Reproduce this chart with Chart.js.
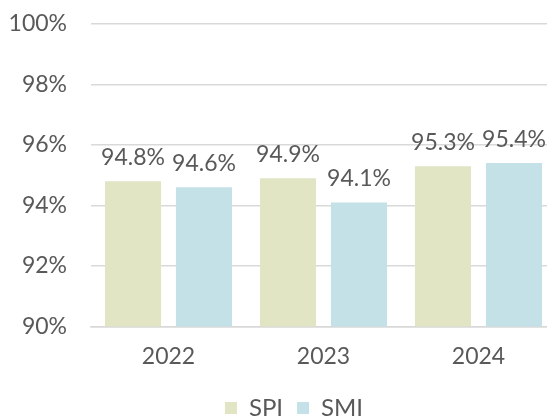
<!DOCTYPE html>
<html>
<head>
<meta charset="utf-8">
<script src="https://cdn.jsdelivr.net/npm/chart.js@4/dist/chart.umd.min.js"></script>
<style>
  html, body { margin: 0; padding: 0; background: #fff; overflow: hidden; }
  .wrap { width: 556px; height: 419px; }
</style>
</head>
<body>
<div class="wrap"><canvas id="myChart"></canvas></div>
<script>
// data
const years = ['2022', '2023', '2024'];
const spi_values = [94.8, 94.9, 95.3];
const smi_values = [94.6, 94.1, 95.4];

const text_color = '#595959';
const grid_color = '#d9d9d9';

// draws "94.8%" etc above each bar
const barLabels = {
    id: 'barLabels',
    afterLayout(chart) {
        // nudge legend down and right like the original
        chart.legend.left += 16;
        chart.legend.right += 16;
        chart.legend.top += 11;
        chart.legend.bottom += 11;
    },
    afterDatasetsDraw(chart) {
        const ctx = chart.ctx;
        ctx.save();
        ctx.font = '23px Lato';
        ctx.fillStyle = text_color;
        ctx.textAlign = 'center';
        ctx.textBaseline = 'middle';
        chart.data.datasets.forEach(function(ds, i) {
            const meta = chart.getDatasetMeta(i);
            meta.data.forEach(function(bar, j) {
                ctx.fillText(ds.data[j].toFixed(1) + '%', bar.x, bar.y - 24);
            });
        });
        ctx.restore();
    }
};

const config = {
    type: 'bar',
    data: {
        labels: years,
        datasets: [
            { label: 'SPI', data: spi_values, backgroundColor: '#e1e5c4' },
            { label: 'SMI', data: smi_values, backgroundColor: '#c4e1e7' }
        ]
    },
    options: {
        responsive: true,
        maintainAspectRatio: false,
        animation: false,
        categoryPercentage: 0.916,
        barPercentage: 0.79,
        layout: { padding: { top: 0, right: 0, bottom: 0, left: 0 } },
        plugins: {
            tooltip: { enabled: false },
            legend: {
                display: true,
                position: 'bottom',
                labels: {
                    color: text_color,
                    font: { family: 'Lato', size: 24 },
                    boxWidth: 12,
                    boxHeight: 12,
                    padding: 14
                }
            }
        },
        scales: {
            x: {
                grid: { display: false },
                border: { color: grid_color, width: 1.5 },
                afterFit: function(scale) { scale.height -= 7; },
                ticks: { color: text_color, font: { family: 'Lato', size: 23 }, padding: 8 }
            },
            y: {
                min: 90,
                max: 100,
                afterFit: function(scale) {
                    scale.width = 91;
                    scale.paddingTop = 24;
                },
                grid: { color: grid_color, lineWidth: 1.5, drawTicks: false },
                border: { display: false },
                ticks: {
                    stepSize: 2,
                    color: text_color,
                    font: { family: 'Lato', size: 23 },
                    padding: 24,
                    callback: function(v) { return v + '%'; }
                }
            }
        }
    },
    plugins: [barLabels]
};

new Chart(document.getElementById('myChart'), config);
</script>
</body>
</html>
